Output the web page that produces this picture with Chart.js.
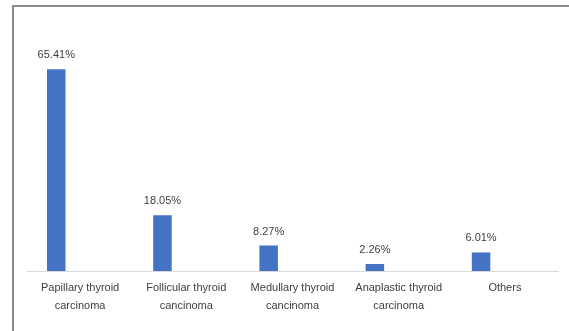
<!DOCTYPE html>
<html>
<head>
<meta charset="utf-8">
<title>Thyroid carcinoma types</title>
<script src="https://cdn.jsdelivr.net/npm/chart.js@4/dist/chart.umd.min.js"></script>
<style>
  html, body { margin: 0; padding: 0; background: #fff; overflow: hidden; }
  #wrap { position: relative; width: 569px; height: 331px; }
  #frame {
    position: absolute; left: 12px; top: 5px; width: 600px; height: 400px;
    border-top: 2px solid #8a8a8a; border-left: 2px solid #8a8a8a;
    box-sizing: border-box; pointer-events: none;
  }
  canvas { position: absolute; left: 0; top: 0; }
</style>
</head>
<body>
<div id="wrap">
  <canvas id="chart" width="569" height="331"></canvas>
  <div id="frame"></div>
</div>
<script>
// Histological types, share of cases (%)
const categories = [
  ["Papillary thyroid", "carcinoma"],
  ["Follicular thyroid", "cancinoma"],
  ["Medullary thyroid", "cancinoma"],
  ["Anaplastic thyroid", "carcinoma"],
  "Others"
];
const shares = [65.41, 18.05, 8.27, 2.26, 6.01];
// second (empty) series keeps the bars in the left half of each category
const emptySeries = [null, null, null, null, null];

const textColor = '#404040';
const fontFamily = '"Liberation Sans", Arial, sans-serif';

const valueLabels = {
  id: 'valueLabels',
  afterDatasetsDraw(chart) {
    const ctx = chart.ctx;
    const meta = chart.getDatasetMeta(0);
    ctx.save();
    ctx.font = '11px ' + fontFamily;
    ctx.fillStyle = textColor;
    ctx.textAlign = 'center';
    ctx.textBaseline = 'middle';
    meta.data.forEach((bar, i) => {
      ctx.fillText(shares[i].toFixed(2) + '%', bar.x, bar.y - 14);
    });
    ctx.restore();
  }
};

new Chart(document.getElementById('chart'), {
  type: 'bar',
  data: {
    labels: categories,
    datasets: [
      {
        label: 'Share',
        data: shares,
        backgroundColor: '#4472C4',
        borderWidth: 0,
        categoryPercentage: 0.898,
        barPercentage: 0.388
      },
      {
        label: 'Empty',
        data: emptySeries,
        backgroundColor: '#4472C4',
        categoryPercentage: 0.898,
        barPercentage: 0.388
      }
    ]
  },
  options: {
    responsive: false,
    animation: false,
    layout: { padding: { left: 27, right: 11, top: 55, bottom: 0 } },
    plugins: {
      legend: { display: false },
      tooltip: { enabled: false },
      title: { display: false }
    },
    scales: {
      x: {
        grid: { display: false, drawTicks: false },
        border: { display: true, color: '#d9d9d9', width: 1 },
        ticks: {
          color: textColor,
          padding: 8,
          maxRotation: 0,
          autoSkip: false,
          font: { family: fontFamily, size: 11, lineHeight: 18 / 11 }
        },
        afterFit(scale) { scale.height = 60; }
      },
      y: {
        display: false,
        min: 0,
        max: 70
      }
    }
  },
  plugins: [valueLabels]
});
</script>
</body>
</html>
